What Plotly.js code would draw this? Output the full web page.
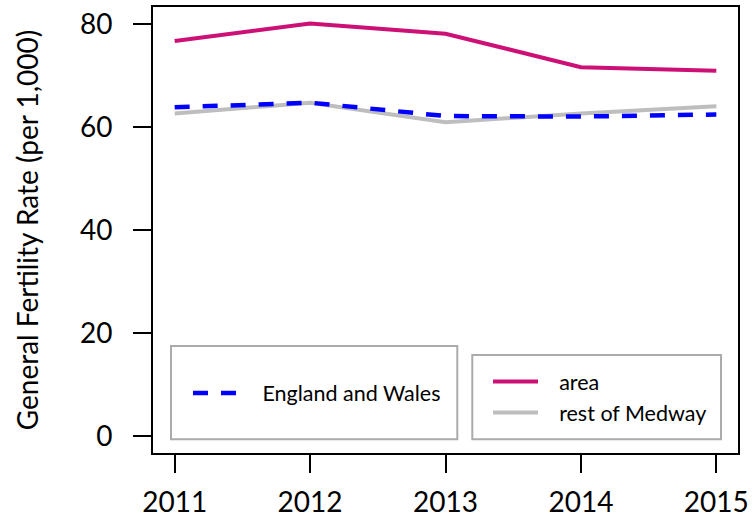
<!DOCTYPE html>
<html>
<head>
<meta charset="utf-8">
<script src="https://cdn.plot.ly/plotly-3.0.1.min.js"></script>
<style>html,body{margin:0;padding:0;background:#fff;}#chart{width:753px;height:519px;}</style>
</head>
<body>
<div id="chart"></div>
<script>
const years = [2011, 2012, 2013, 2014, 2015];
const areaRate = [76.8, 80.2, 78.2, 71.7, 71.0];
const englandWalesRate = [63.9, 64.8, 62.2, 62.1, 62.5];
const restOfMedwayRate = [62.7, 64.8, 61.0, 62.7, 64.1];
const yTicks = [0, 20, 40, 60, 80];
const seriesNames = ["England and Wales", "area", "rest of Medway"];
const yTitle = "General Fertility Rate (per 1,000)";

const FONT = "Lato, 'DejaVu Sans', sans-serif";
// spacing between legend sample and label, as in the reference legends
const gap1 = "\u2003\u2005", gap2 = "\u2002\u2005";

const traces = [
  {x: years, y: restOfMedwayRate, name: gap2 + seriesNames[2], type: "scatter", mode: "lines",
   line: {color: "#BEBEBE", width: 4}, legend: "legend2", legendrank: 2},
  {x: years, y: englandWalesRate, name: gap1 + seriesNames[0], type: "scatter", mode: "lines",
   line: {color: "#0000FF", width: 4.5, dash: "15px,13px"}, legend: "legend"},
  {x: years, y: areaRate, name: gap2 + seriesNames[1], type: "scatter", mode: "lines",
   line: {color: "#CD1076", width: 4}, legend: "legend2", legendrank: 1}
];

const L = 153, R = 15, T = 7, B = 66;
const W = 753 - L - R, H = 519 - T - B;
const px = v => (v - L) / W;
const py = v => (519 - B - v) / H;

const layout = {
  width: 753, height: 519,
  margin: {l: L, r: R, t: T, b: B, pad: 0},
  paper_bgcolor: "#fff", plot_bgcolor: "#fff",
  font: {family: FONT, color: "#000", size: 28},
  showlegend: true,
  xaxis: {
    range: [2010.84, 2015.16], tickvals: years, ticktext: years.map(String),
    showgrid: false, zeroline: false, showline: true, mirror: true,
    linecolor: "#000", linewidth: 2, ticks: "outside", ticklen: 18, tickwidth: 2,
    tickcolor: "#000", tickfont: {size: 28}, ticklabelstandoff: 5
  },
  yaxis: {
    range: [-3.3, 83.4], tickvals: yTicks, ticktext: yTicks.map(String),
    showgrid: false, zeroline: false, showline: true, mirror: true,
    linecolor: "#000", linewidth: 2, ticks: "outside", ticklen: 18, tickwidth: 2,
    tickcolor: "#000", tickfont: {size: 28}, ticklabelstandoff: 15,
    title: {text: yTitle, font: {size: 28}, standoff: 33}
  },
  shapes: [
    {type: "rect", xref: "paper", yref: "paper", x0: px(171), x1: px(457.3), y0: py(439.3), y1: py(346),
     line: {color: "#ABABAB", width: 2}, fillcolor: "rgba(0,0,0,0)", layer: "above"},
    {type: "rect", xref: "paper", yref: "paper", x0: px(472.3), x1: px(721), y0: py(439.3), y1: py(355),
     line: {color: "#ABABAB", width: 2}, fillcolor: "rgba(0,0,0,0)", layer: "above"}
  ],
  legend: {
    x: px(188), y: py(393), xanchor: "left", yanchor: "middle",
    bgcolor: "rgba(0,0,0,0)", borderwidth: 0, font: {size: 21.5},
    itemwidth: 43, itemclick: false, itemdoubleclick: false
  },
  legend2: {
    x: px(488), y: py(397), xanchor: "left", yanchor: "middle",
    bgcolor: "rgba(0,0,0,0)", borderwidth: 0, font: {size: 21.5},
    itemwidth: 45, traceorder: "normal", tracegroupgap: 0,
    itemclick: false, itemdoubleclick: false
  }
};

Plotly.newPlot("chart", traces, layout, {displayModeBar: false, staticPlot: true});
</script>
</body>
</html>
